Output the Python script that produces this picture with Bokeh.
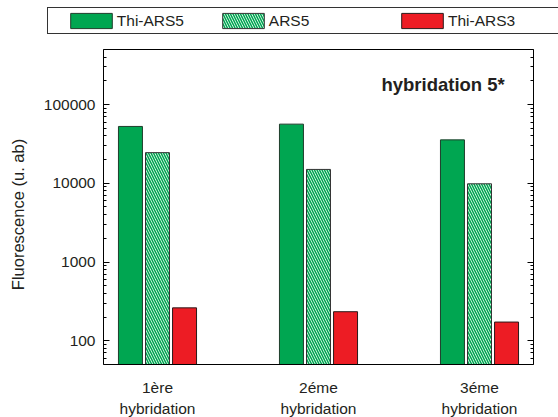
import math
from bokeh.plotting import figure
from bokeh.models import (Range1d, FixedTicker, LogAxis, LinearAxis, Legend,
                          LegendItem, Label, ColumnDataSource)
from bokeh.transform import dodge
from bokeh.embed import file_html
from bokeh.resources import INLINE

# ---- data ----
groups = ["1ère\nhybridation", "2éme\nhybridation", "3éme\nhybridation"]
thi_ars5 = [52700, 56400, 35600]
ars5 = [24500, 15000, 9850]
thi_ars3 = [262, 234, 173]
series_names = ["Thi-ARS5", "ARS5", "Thi-ARS3"]
y_major = [100, 1000, 10000, 100000]
y_labels = ["100", "1000", "10000", "100000"]

FONT = "Liberation Sans"
TXT = "#231F20"
GREEN = "#00A651"
RED = "#ED1C24"

x_pos = [i + 1 for i in range(len(groups))]
y_lo, y_hi = 50, 500000          # visible axis extent
x_lo, x_hi = 0.664596, 3.335404  # visible axis extent

# whole canvas is the plotting frame; the boxed axes sit inside it
X0, X1 = 0.024845, 3.490683
Y0, Y1 = 10 ** 1.02595, 10 ** 6.32119

src = ColumnDataSource(dict(x=x_pos, g=thi_ars5, a=ars5, r=thi_ars3,
                            bottom=[y_lo] * len(x_pos)))

p = figure(width=558, height=417, output_backend="svg", toolbar_location=None,
           y_axis_type="log", x_range=Range1d(X0, X1), y_range=Range1d(Y0, Y1),
           title=None, x_axis_location=None, y_axis_location=None,
           min_border_left=0, min_border_right=0, min_border_top=0,
           min_border_bottom=0)
p.grid.visible = False
p.outline_line_color = None
p.background_fill_color = "white"
p.border_fill_color = "white"

off = 0.168
w = 0.149
r_g = p.vbar(x=dodge("x", -off), top="g", bottom="bottom", width=w, source=src,
             fill_color=GREEN, line_color="#1f3d2b", line_width=1)
r_a = p.vbar(x=dodge("x", 0), top="a", bottom="bottom", width=w, source=src,
             fill_color="white", line_color="#333333", line_width=1,
             hatch_pattern="\\", hatch_color=GREEN, hatch_scale=5,
             hatch_weight=1.6)
r_r = p.vbar(x=dodge("x", off), top="r", bottom="bottom", width=w, source=src,
             fill_color=RED, line_color="#2a1a1a", line_width=1)
r_blank = p.vbar(x=[], top=[], width=0.1, fill_alpha=0, line_alpha=0)

minor = []
for d in range(1, 6):
    for k in range(2, 10):
        v = k * 10 ** d
        if y_lo <= v <= y_hi:
            minor.append(v)

# left axis
la = LogAxis(fixed_location=x_lo, bounds=(y_lo, y_hi),
             ticker=FixedTicker(ticks=y_major, minor_ticks=minor),
             major_label_overrides={v: s for v, s in zip(y_major, y_labels)},
             major_label_text_font=FONT, major_label_text_font_size="15.5px",
             major_label_text_color=TXT, major_label_standoff=8,
             major_tick_in=6, major_tick_out=0, minor_tick_in=3,
             minor_tick_out=0, axis_line_color="black")
p.add_layout(la, "left")
# right axis (ticks only)
ra = LogAxis(fixed_location=x_hi, bounds=(y_lo, y_hi),
             ticker=FixedTicker(ticks=y_major, minor_ticks=minor),
             major_label_overrides={v: "" for v in y_major},
             major_tick_in=6, major_tick_out=0, minor_tick_in=3,
             minor_tick_out=0, major_label_standoff=0, axis_line_color="black")
p.add_layout(ra, "right")
# bottom axis with category labels
ba = LinearAxis(fixed_location=y_lo, bounds=(x_lo, x_hi),
                ticker=FixedTicker(ticks=x_pos, minor_ticks=[]),
                major_label_overrides={x: g for x, g in zip(x_pos, groups)},
                major_label_text_font=FONT, major_label_text_font_size="15.5px",
                major_label_text_color=TXT, major_label_standoff=15,
                major_tick_in=0, major_tick_out=0, minor_tick_in=0,
                minor_tick_out=0, major_tick_line_color=None,
                minor_tick_line_color=None, axis_line_color="black")
p.add_layout(ba, "below")
# top frame line
ta = LinearAxis(fixed_location=y_hi, bounds=(x_lo, x_hi),
                ticker=FixedTicker(ticks=[], minor_ticks=[]),
                major_tick_line_color=None, minor_tick_line_color=None,
                major_tick_in=0, major_tick_out=0, major_label_standoff=0,
                axis_line_color="black")
p.add_layout(ta, "above")

# y axis title
p.add_layout(Label(x=0.1335, y=4016, text="Fluorescence (u. ab)", angle=math.pi / 2,
                   text_font=FONT, text_font_size="16.5px", text_color=TXT,
                   text_align="center", text_baseline="middle"))

p.add_layout(Label(x=2.391, y=179500, text="hybridation 5*", text_font=FONT,
                   text_font_size="18.5px", text_font_style="bold",
                   text_color=TXT, text_align="left",
                   text_baseline="alphabetic"))

# ---- legend ----
base = dict(orientation="horizontal", margin=0, spacing=0,
            glyph_width=52, glyph_height=19, label_height=19,
            label_standoff=0, label_text_font=FONT,
            label_text_font_size="15.5px", label_text_color=TXT)
legB = Legend(items=[LegendItem(label="", renderers=[r_blank]),
                     LegendItem(label="", renderers=[r_blank]),
                     LegendItem(label="", renderers=[r_blank]),
                     LegendItem(label=series_names[2], renderers=[r_r]),
                     LegendItem(label="", renderers=[r_blank])],
              padding=3, label_width=63, border_line_color="#333333",
              border_line_width=1, border_line_alpha=1,
              background_fill_alpha=0, location=(47, 382.7), **base)
legA = Legend(items=[LegendItem(label=series_names[0], renderers=[r_g]),
                     LegendItem(label=series_names[1], renderers=[r_a])],
              padding=0, label_width=100, border_line_alpha=0,
              background_fill_alpha=0, location=(64.8, 386.6), **base)
p.add_layout(legB, "center")
p.add_layout(legA, "center")

open("out.html", "w").write(file_html(p, INLINE))
